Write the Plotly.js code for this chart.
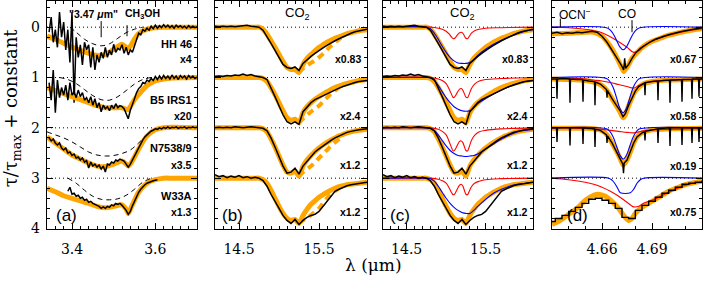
<!DOCTYPE html>
<html><head><meta charset="utf-8">
<script src="https://cdn.plot.ly/plotly-3.0.1.min.js"></script>
<style>html,body{margin:0;padding:0;background:#fff}#chart{width:704px;height:283px}</style>
</head><body><div id="chart"></div>
<script>
// ---------- Panel (a): 3.47 um region ----------
const xA = [3.345,3.35,3.355,3.36,3.365,3.37,3.375,3.38,3.385,3.39,3.395,3.4,3.405,3.41,3.415,3.42,3.425,3.43,3.435,3.44,3.445,3.45,3.455,3.46,3.465,3.47,3.475,3.48,3.485,3.49,3.495,3.5,3.505,3.51,3.515,3.52,3.525,3.53,3.535,3.54,3.545,3.55,3.555,3.56,3.565,3.57,3.575,3.58,3.585,3.59,3.595,3.6,3.605,3.61,3.615,3.62,3.625,3.63,3.635,3.64,3.645,3.65,3.655,3.66,3.665,3.67,3.675,3.68,3.685,3.69,3.695,3.7];
const aHH46 = [0.10,-0.20,0.30,0.05,0.40,-0.30,0.20,-0.10,0.45,0.05,0.70,-0.30,1.50,0.20,0.60,0.35,0.75,0.30,0.45,0.35,0.80,0.40,0.85,0.55,0.70,0.50,0.62,0.40,0.60,0.46,0.55,0.34,0.50,0.42,0.45,0.35,0.52,0.40,0.55,0.45,0.50,0.38,0.28,0.12,0.15,0.05,0.08,0.02,0.06,-0.02,0.03,-0.04,0.02,-0.03,0.01,-0.05,0.00,-0.04,0.01,-0.03,0.02,-0.04,0.00,-0.03,0.01,-0.02,0.02,-0.03,0.01,-0.02,0.01,-0.01];
const aB5 = [1.10,1.45,0.85,1.70,1.05,1.40,1.20,1.35,1.15,1.45,1.10,1.35,1.28,1.40,1.25,1.38,1.30,1.45,1.40,1.50,1.38,1.55,1.42,1.60,1.50,1.68,1.55,1.62,1.58,1.66,1.55,1.62,1.52,1.60,1.56,1.58,1.62,1.72,1.82,1.65,1.55,1.42,1.30,1.22,1.18,1.10,1.12,1.05,1.08,1.02,1.06,0.98,1.04,0.97,1.03,0.96,1.02,0.97,1.03,0.95,1.02,0.97,1.04,0.96,1.01,0.97,1.03,0.96,1.01,0.97,1.02,0.99];
const aN7538 = [2.2,2.26,2.22,2.3,2.34,2.3,2.4,2.44,2.4,2.5,2.48,2.55,2.52,2.6,2.58,2.64,2.6,2.68,2.65,2.8,2.68,2.76,2.72,2.78,2.74,2.82,2.76,2.88,2.72,2.74,2.68,2.7,2.64,2.66,2.62,2.64,2.66,2.72,2.78,2.72,2.64,2.56,2.46,2.38,2.3,2.24,2.18,2.13,2.1,2.06,2.05,2.02,2.03,2.0,2.02,1.99,2.01,1.98,2.01,1.99,2.0,1.98,2.01,1.99,2.0,1.98,2.01,1.99,2.0,1.98,2.0,1.99];
const xW33A = [3.39,3.395,3.4,3.405,3.41,3.415,3.42,3.425,3.43,3.435,3.44,3.445,3.45,3.455,3.46,3.465,3.47,3.475,3.48,3.485,3.49,3.495,3.5,3.505,3.51,3.515,3.52,3.525,3.53,3.535,3.54,3.545,3.55,3.555,3.56,3.565,3.57,3.575,3.58,3.585,3.59,3.595,3.6,3.605];
const aW33A = [3.26,3.18,3.32,3.3,3.36,3.34,3.4,3.38,3.44,3.42,3.48,3.46,3.5,3.52,3.55,3.56,3.6,3.57,3.6,3.56,3.58,3.53,3.55,3.5,3.52,3.5,3.54,3.58,3.64,3.72,3.66,3.55,3.45,3.36,3.28,3.22,3.17,3.13,3.1,3.08,3.06,3.05,3.04,3.03];
const xAmodel = [3.34,3.36,3.38,3.40,3.42,3.44,3.46,3.48,3.50,3.52,3.53,3.535,3.54,3.55,3.56,3.58,3.60,3.62,3.64,3.70];
const aModelHH46 = [0.18,0.24,0.32,0.4,0.46,0.52,0.56,0.54,0.44,0.34,0.4,0.42,0.38,0.24,0.13,0.04,0.01,0.0,0.0,0.0];
const aModelB5 = [1.2,1.26,1.32,1.38,1.44,1.5,1.56,1.6,1.6,1.6,1.63,1.64,1.58,1.44,1.34,1.16,1.07,1.03,1.01,1.0];
const aModelN7538 = [2.18,2.3,2.42,2.54,2.62,2.7,2.76,2.77,2.72,2.66,2.72,2.76,2.72,2.58,2.42,2.16,2.04,2.0,1.99,2.0];
const aModelW33A = [3.2,3.27,3.35,3.4,3.45,3.5,3.56,3.59,3.56,3.53,3.62,3.7,3.62,3.44,3.28,3.1,3.03,3.0,3.0,3.0];
const xDashHH46 = [3.395,3.41,3.43,3.45,3.47,3.49,3.51,3.53,3.55,3.57];
const dashHH46 = [0.0,0.1,0.24,0.33,0.37,0.33,0.22,0.11,0.04,0.0];
const xDashB5 = [3.37,3.39,3.41,3.43,3.45,3.47,3.49,3.51,3.53,3.55,3.57,3.59];
const dashB5 = [1.0,1.04,1.12,1.24,1.36,1.44,1.45,1.38,1.26,1.13,1.04,1.0];
const xDashN7538 = [3.34,3.36,3.38,3.40,3.42,3.44,3.46,3.48,3.50,3.52,3.54,3.56,3.58,3.60];
const dashN7538 = [2.08,2.14,2.2,2.28,2.38,2.48,2.54,2.56,2.55,2.51,2.44,2.3,2.14,2.02];
const xDashW33A = [3.39,3.41,3.43,3.45,3.47,3.49,3.51,3.53,3.55,3.57,3.59];
const dashW33A = [3.0,3.1,3.24,3.36,3.42,3.43,3.41,3.34,3.22,3.08,3.0];

// ---------- Panels (b),(c): CO2 bending mode ----------
const xCO2 = [14.2,14.25,14.3,14.35,14.4,14.45,14.5,14.55,14.6,14.65,14.7,14.75,14.8,14.85,14.9,14.95,15.0,15.05,15.1,15.15,15.2,15.25,15.3,15.35,15.4,15.45,15.5,15.55,15.6,15.65,15.7,15.75,15.8,15.85,15.9,15.95,16.0,16.05,16.1];
const co2HH46 = [-0.02,-0.01,-0.02,-0.01,-0.02,-0.01,-0.02,-0.03,-0.04,-0.02,-0.01,0.0,0.06,0.18,0.32,0.46,0.6,0.74,0.8,0.82,0.79,0.86,0.72,0.64,0.58,0.52,0.46,0.41,0.36,0.31,0.27,0.23,0.19,0.15,0.12,0.09,0.07,0.05,0.04];
const co2B5 = [0.98,0.97,0.98,0.96,0.97,0.95,0.96,0.93,0.96,0.94,0.97,0.98,1.0,1.04,1.2,1.38,1.56,1.74,1.88,1.92,1.88,1.93,1.68,1.58,1.5,1.44,1.4,1.36,1.32,1.28,1.24,1.21,1.18,1.15,1.12,1.1,1.08,1.07,1.06];
const co2N7538 = [2.0,1.99,2.0,1.99,2.0,1.98,1.99,2.0,1.99,1.98,1.99,2.0,2.01,2.06,2.2,2.38,2.58,2.76,2.9,2.88,2.8,2.92,2.76,2.66,2.56,2.48,2.42,2.36,2.3,2.25,2.2,2.16,2.12,2.09,2.07,2.05,2.04,2.03,2.02];
const co2W33A = [2.93,2.97,2.95,2.99,2.96,2.98,2.95,2.99,2.97,3.0,2.98,3.0,3.05,3.16,3.32,3.46,3.62,3.74,3.84,3.9,3.82,3.92,3.84,3.78,3.74,3.72,3.66,3.56,3.44,3.34,3.26,3.22,3.18,3.15,3.13,3.12,3.1,3.1,3.08];
const co2ModelHH46 = [0,0,0,0,0,0,0,0,0,0,0,0,0.04,0.14,0.27,0.4,0.54,0.68,0.8,0.84,0.84,0.9,0.74,0.62,0.54,0.47,0.4,0.35,0.3,0.26,0.22,0.19,0.16,0.13,0.11,0.09,0.07,0.06,0.05];
const co2ModelB5 = [1,1,1,1,1,1,1,1,1,1,1,1,1.02,1.08,1.2,1.34,1.5,1.66,1.8,1.85,1.83,1.9,1.7,1.58,1.5,1.43,1.38,1.33,1.28,1.24,1.2,1.17,1.14,1.12,1.1,1.08,1.06,1.05,1.04];
const co2ModelN7538 = [2,2,2,2,2,2,2,2,2,2,2,2,2.02,2.08,2.22,2.38,2.56,2.74,2.88,2.9,2.86,2.96,2.76,2.64,2.55,2.47,2.4,2.34,2.29,2.24,2.2,2.16,2.13,2.1,2.08,2.06,2.05,2.04,2.03];
const co2ModelW33A = [3,3,3,3,3,3,3,3,3,3,3,3,3.03,3.1,3.24,3.4,3.56,3.7,3.8,3.84,3.82,3.9,3.74,3.62,3.52,3.45,3.38,3.33,3.28,3.24,3.2,3.17,3.15,3.13,3.12,3.11,3.1,3.09,3.08];
const xCO2alt = [15.25,15.3,15.35,15.4,15.45,15.5,15.55,15.6,15.65,15.7,15.75,15.8];
const co2AltHH46 = [0.9,0.82,0.76,0.71,0.66,0.6,0.53,0.45,0.37,0.3,0.24,0.19];
const co2AltB5 = [1.9,1.82,1.75,1.68,1.62,1.56,1.48,1.4,1.32,1.26,1.2,1.16];
const co2AltN7538 = [2.96,2.88,2.82,2.76,2.68,2.6,2.52,2.44,2.36,2.29,2.22,2.15];
const co2AltW33A = [3.9,3.84,3.79,3.73,3.67,3.6,3.5,3.4,3.32,3.26,3.2,3.16];
const xCO2pure = [14.2,14.8,14.9,14.95,15.0,15.04,15.07,15.09,15.11,15.14,15.17,15.19,15.21,15.23,15.25,15.27,15.29,15.32,15.36,15.42,15.5,15.7,16.1];
const co2PureHH46 = [0,0,0.02,0.04,0.08,0.14,0.2,0.23,0.22,0.16,0.11,0.1,0.12,0.17,0.22,0.23,0.19,0.12,0.07,0.04,0.02,0.01,0.0];
const co2PureB5 = [1,1,1.03,1.06,1.12,1.24,1.34,1.4,1.38,1.3,1.23,1.22,1.25,1.32,1.39,1.4,1.34,1.22,1.13,1.07,1.04,1.02,1.0];
const co2PureN7538 = [2,2,2.03,2.07,2.14,2.28,2.4,2.46,2.44,2.35,2.27,2.26,2.29,2.37,2.45,2.46,2.39,2.25,2.15,2.08,2.05,2.02,2.0];
const co2PureW33A = [3,3,3.02,3.05,3.1,3.2,3.29,3.33,3.31,3.22,3.14,3.12,3.15,3.24,3.32,3.33,3.27,3.17,3.1,3.06,3.03,3.01,3.0];
const xCO2polar = [14.2,14.75,14.8,14.85,14.9,14.95,15.0,15.05,15.1,15.15,15.2,15.25,15.3,15.35,15.4,15.5,15.6,15.7,15.8,15.9,16.0,16.1];
const co2PolarHH46 = [0,0,0.03,0.12,0.24,0.38,0.5,0.6,0.67,0.71,0.72,0.72,0.7,0.64,0.56,0.44,0.34,0.26,0.19,0.13,0.08,0.05];
const co2PolarB5 = [1,1,1.01,1.06,1.16,1.28,1.4,1.5,1.58,1.63,1.66,1.67,1.66,1.6,1.52,1.42,1.33,1.25,1.18,1.12,1.08,1.06];
const co2PolarN7538 = [2,2,2.01,2.05,2.14,2.25,2.36,2.45,2.51,2.55,2.56,2.57,2.56,2.55,2.52,2.42,2.32,2.22,2.14,2.08,2.05,2.03];
const co2PolarW33A = [3,3,3.01,3.06,3.16,3.28,3.4,3.5,3.58,3.64,3.68,3.7,3.7,3.64,3.56,3.42,3.3,3.22,3.16,3.12,3.1,3.08];

// ---------- Panel (d): CO / OCN- region ----------
const xCoHH46 = [4.630,4.633,4.636,4.639,4.642,4.645,4.648,4.651,4.654,4.657,4.660,4.663,4.666,4.668,4.670,4.672,4.673,4.6736,4.6742,4.675,4.676,4.678,4.680,4.683,4.686,4.689,4.692,4.695,4.698,4.701,4.704,4.707,4.710,4.713,4.716,4.720];
const coHH46 = [0.12,0.1,0.13,0.11,0.12,0.1,0.11,0.09,0.08,0.1,0.18,0.3,0.45,0.56,0.67,0.78,0.85,0.62,0.82,0.78,0.74,0.62,0.52,0.42,0.35,0.29,0.24,0.2,0.17,0.14,0.11,0.09,0.07,0.05,0.03,0.01];
const xCoB5 = [4.6300,4.6327,4.6330,4.6333,4.6370,4.6405,4.6408,4.6411,4.6450,4.6483,4.6486,4.6489,4.6520,4.6555,4.6558,4.6561,4.6590,4.6610,4.6627,4.6630,4.6633,4.6660,4.6690,4.6710,4.6726,4.6740,4.6760,4.6780,4.6800,4.6820,4.6840,4.6855,4.6858,4.6861,4.6900,4.6933,4.6936,4.6939,4.6970,4.7005,4.7008,4.7011,4.7040,4.7077,4.7080,4.7083,4.7110,4.7137,4.7140,4.7143,4.7160,4.7179,4.7182,4.7185,4.7200];
const coB5 = [1.03,1.03,1.42,1.03,1.02,1.03,1.50,1.03,1.04,1.04,1.48,1.05,1.07,1.08,1.55,1.09,1.13,1.2,1.24,1.40,1.26,1.42,1.57,1.67,1.78,1.72,1.55,1.4,1.27,1.18,1.13,1.11,1.35,1.1,1.08,1.07,1.45,1.07,1.06,1.05,1.5,1.05,1.05,1.04,1.48,1.04,1.04,1.04,1.42,1.03,1.03,1.03,1.38,1.03,1.03];
const xCoN7538 = [4.6300,4.6327,4.6330,4.6333,4.6370,4.6405,4.6408,4.6411,4.6450,4.6483,4.6486,4.6489,4.6520,4.6555,4.6558,4.6561,4.6590,4.6610,4.6627,4.6630,4.6633,4.6660,4.6690,4.6710,4.6725,4.6729,4.6733,4.6750,4.6770,4.6790,4.6810,4.6840,4.6855,4.6858,4.6861,4.6900,4.6933,4.6936,4.6939,4.6970,4.7005,4.7008,4.7011,4.7040,4.7077,4.7080,4.7083,4.7110,4.7137,4.7140,4.7143,4.7160,4.7179,4.7182,4.7185,4.7200];
const coN7538 = [2.0,2.0,2.28,2.0,2.0,2.0,2.35,2.0,2.0,2.0,2.32,2.0,2.01,2.02,2.38,2.03,2.05,2.1,2.14,2.3,2.16,2.3,2.48,2.62,2.72,2.9,2.7,2.64,2.48,2.3,2.18,2.1,2.08,2.25,2.07,2.04,2.02,2.3,2.02,2.01,2.0,2.36,2.0,2.0,2.0,2.34,2.0,2.0,2.0,2.3,2.0,2.0,2.0,2.28,2.0,2.0];
const xCoW33A = [4.630,4.634,4.638,4.642,4.646,4.650,4.654,4.658,4.662,4.666,4.670,4.674,4.678,4.682,4.686,4.690,4.694,4.698,4.702,4.706,4.710,4.714,4.718,4.722];
const coW33A = [3.86,3.8,3.74,3.66,3.58,3.5,3.42,3.4,3.44,3.5,3.6,3.78,3.8,3.64,3.54,3.46,3.38,3.3,3.24,3.18,3.12,3.1,3.08,3.06];
const xCoModelHH46 = [4.63,4.64,4.65,4.655,4.66,4.665,4.668,4.67,4.672,4.673,4.674,4.676,4.678,4.68,4.685,4.69,4.695,4.70,4.705,4.71,4.715,4.72];
const coModelHH46 = [0.13,0.12,0.1,0.1,0.18,0.38,0.55,0.68,0.82,0.88,0.84,0.74,0.62,0.54,0.38,0.28,0.22,0.16,0.12,0.08,0.05,0.03];
const xCoModelB5 = [4.63,4.64,4.65,4.655,4.66,4.663,4.666,4.669,4.671,4.6727,4.674,4.676,4.678,4.68,4.684,4.69,4.70,4.71,4.72];
const coModelB5 = [1.03,1.04,1.06,1.09,1.16,1.26,1.42,1.58,1.7,1.8,1.74,1.56,1.4,1.27,1.14,1.08,1.05,1.04,1.03];
const xCoModelN7538 = [4.63,4.65,4.655,4.66,4.663,4.666,4.669,4.671,4.6727,4.675,4.677,4.679,4.681,4.684,4.69,4.70,4.72];
const coModelN7538 = [2.01,2.01,2.02,2.06,2.14,2.3,2.48,2.62,2.74,2.64,2.48,2.3,2.18,2.1,2.04,2.02,2.01];
const xCoModelW33A = [4.63,4.635,4.64,4.645,4.65,4.655,4.658,4.662,4.666,4.67,4.673,4.676,4.678,4.68,4.684,4.69,4.695,4.70,4.705,4.71,4.715,4.72];
const coModelW33A = [3.92,3.84,3.72,3.6,3.44,3.34,3.32,3.36,3.46,3.6,3.74,3.84,3.8,3.7,3.58,3.46,3.36,3.26,3.19,3.13,3.09,3.06];
const xCoRed = [4.63,4.64,4.65,4.655,4.66,4.665,4.67,4.675,4.679,4.682,4.685,4.69,4.70,4.71,4.72];
const coRedHH46 = [0.0,0.01,0.04,0.07,0.11,0.19,0.29,0.4,0.5,0.47,0.38,0.28,0.16,0.08,0.03];
const coRedB5 = [1.0,1.01,1.03,1.05,1.07,1.1,1.14,1.18,1.21,1.16,1.12,1.08,1.05,1.04,1.03];
const coRedN7538 = [2.0,2.0,2.01,2.02,2.03,2.05,2.07,2.09,2.1,2.08,2.06,2.04,2.03,2.02,2.02];
const coRedW33A = [3.0,3.03,3.08,3.12,3.18,3.26,3.36,3.48,3.57,3.56,3.5,3.44,3.28,3.14,3.07];
const xCoBlue = [4.63,4.6627,4.6647,4.6667,4.6687,4.6707,4.6727,4.6747,4.6767,4.6787,4.6807,4.6827,4.72];
const coBlueHH46 = [0,0.01,0.05,0.13,0.26,0.39,0.45,0.39,0.26,0.13,0.05,0.01,0];
const coBlueB5 = [1,1.02,1.08,1.2,1.4,1.61,1.7,1.61,1.4,1.2,1.08,1.02,1];
const coBlueN7538 = [2,2.02,2.07,2.18,2.36,2.54,2.62,2.54,2.36,2.18,2.07,2.02,2];
const xCoBlueW33A = [4.63,4.664,4.666,4.668,4.670,4.671,4.677,4.679,4.681,4.683,4.685,4.72];
const coBlueW33A = [3,3,3.04,3.12,3.24,3.29,3.29,3.22,3.1,3.03,3.0,3.0];

// ---------- labels ----------
const sources = ['HH 46','B5 IRS1','N7538/9','W33A'];
const offsets = [0,1,2,3];
const scaleA = ['x4','x20','x3.5','x1.3'];
const scaleB = ['x0.83','x2.4','x1.2','x1.2'];
const scaleC = ['x0.83','x2.4','x1.2','x1.2'];
const scaleD = ['x0.67','x0.58','x0.19','x0.75'];
const panelTags = ['(a)','(b)','(c)','(d)'];

// ---------- build ----------
const ORANGE = '#ffa500', BLACK = '#000000', RED = '#ff0000', BLUE = '#0000ff';
const traces = [];
function add(x, y, ax, color, width, extra) {
  const t = {x: x, y: y, xaxis: 'x' + (ax === 1 ? '' : ax), yaxis: 'y' + (ax === 1 ? '' : ax),
    type: 'scatter', mode: 'lines', hoverinfo: 'skip', line: {color: color, width: width}};
  if (extra) { Object.assign(t.line, extra); }
  traces.push(t);
}
const SPL = {shape: 'spline', smoothing: 0.7};
const aModels = [aModelHH46, aModelB5, aModelN7538, aModelW33A];
const aDashX = [xDashHH46, xDashB5, xDashN7538, xDashW33A];
const aDash = [dashHH46, dashB5, dashN7538, dashW33A];
const aObsX = [xA, xA, xA, xW33A];
const aObs = [aHH46, aB5, aN7538, aW33A];
for (let r = 0; r < 4; r++) {
  add(xAmodel, aModels[r], 1, ORANGE, 5, SPL);
  add(aDashX[r], aDash[r], 1, BLACK, 1, {dash: '5px,4px', shape: 'spline'});
  add(aObsX[r], aObs[r], 1, BLACK, 1.5);
}
const co2Obs = [co2HH46, co2B5, co2N7538, co2W33A];
const co2Model = [co2ModelHH46, co2ModelB5, co2ModelN7538, co2ModelW33A];
const co2Alt = [co2AltHH46, co2AltB5, co2AltN7538, co2AltW33A];
const co2Pure = [co2PureHH46, co2PureB5, co2PureN7538, co2PureW33A];
const co2Polar = [co2PolarHH46, co2PolarB5, co2PolarN7538, co2PolarW33A];
for (let r = 0; r < 4; r++) {
  add(xCO2, co2Model[r], 2, ORANGE, 5, SPL);
  add(xCO2alt, co2Alt[r], 2, ORANGE, 4, {dash: '7px,5px', shape: 'spline'});
  add(xCO2, co2Obs[r], 2, BLACK, 1.5);
  add(xCO2, co2Model[r], 3, ORANGE, 5, SPL);
  add(xCO2pure, co2Pure[r], 3, RED, 1.1, {shape: 'spline'});
  add(xCO2polar, co2Polar[r], 3, BLUE, 1.1, {shape: 'spline'});
  add(xCO2, co2Obs[r], 3, BLACK, 1.5);
}
const coModelX = [xCoModelHH46, xCoModelB5, xCoModelN7538, xCoModelW33A];
const coModel = [coModelHH46, coModelB5, coModelN7538, coModelW33A];
const coRed = [coRedHH46, coRedB5, coRedN7538, coRedW33A];
const coBlueX = [xCoBlue, xCoBlue, xCoBlue, xCoBlueW33A];
const coBlue = [coBlueHH46, coBlueB5, coBlueN7538, coBlueW33A];
const coObsX = [xCoHH46, xCoB5, xCoN7538, xCoW33A];
const coObs = [coHH46, coB5, coN7538, coW33A];
for (let r = 0; r < 4; r++) {
  add(coModelX[r], coModel[r], 4, ORANGE, 5, SPL);
  add(xCoRed, coRed[r], 4, RED, 1.1, {shape: 'spline'});
  add(coBlueX[r], coBlue[r], 4, BLUE, 1.1, {shape: 'spline'});
  add(coObsX[r], coObs[r], 4, BLACK, 1.4, r === 3 ? {shape: 'hvh'} : null);
}

const shapes = [];
for (let p = 1; p <= 4; p++) {
  const xs = p === 1 ? 'x' : 'x' + p, ys = p === 1 ? 'y' : 'y' + p;
  offsets.forEach(o => shapes.push({type: 'line', xref: xs + ' domain', yref: ys, x0: 0, x1: 1, y0: o, y1: o,
    line: {color: BLACK, width: 1, dash: '1px,3px'}, layer: 'below'}));
}
const featA = [{x: 3.47, y0: -0.12, y1: 0.2}, {x: 3.532, y0: -0.04, y1: 0.18}];
const featD = [{x: 4.635, y0: -0.17, y1: 0.0}, {x: 4.678, y0: -0.14, y1: 0.1}];
featA.forEach(f => shapes.push({type: 'line', xref: 'x', yref: 'y', x0: f.x, x1: f.x, y0: f.y0, y1: f.y1, line: {color: BLACK, width: 1}}));
featD.forEach(f => shapes.push({type: 'line', xref: 'x4', yref: 'y4', x0: f.x, x1: f.x, y0: f.y0, y1: f.y1, line: {color: BLACK, width: 1}}));

const ann = [];
const LAB = 'Liberation Sans, Arial, sans-serif';
function note(xref, yref, x, y, text, size, xanchor, fam) {
  ann.push({xref: xref, yref: yref, x: x, y: y, text: text, showarrow: false, xanchor: xanchor || 'center', yanchor: 'middle',
    font: {family: fam || LAB, size: size, color: BLACK}});
}
const nameY = [0.33, 1.44, 2.4, 3.36];
const scaleY = [0.64, 1.76, 2.74, 3.68];
for (let r = 0; r < 4; r++) {
  note('x domain', 'y', 0.98, nameY[r], '<b>' + sources[r] + '</b>', 11, 'right');
  note('x domain', 'y', 0.98, scaleY[r], '<b>' + scaleA[r] + '</b>', 10.5, 'right');
  note('x2 domain', 'y2', 0.975, scaleY[r], '<b>' + scaleB[r] + '</b>', 10.5, 'right');
  note('x3 domain', 'y3', 0.98, scaleY[r], '<b>' + scaleC[r] + '</b>', 10.5, 'right');
  note('x4 domain', 'y4', 0.975, scaleY[r] + (r === 2 ? 0.02 : 0), '<b>' + scaleD[r] + '</b>', 10.5, 'right');
}
const tagX = [0.127, 0.118, 0.113, 0.167];
panelTags.forEach((t, i) => note('x' + (i ? i + 1 : '') + ' domain', 'y' + (i ? i + 1 : ''), tagX[i], 3.74, t, 17, 'center'));
note('x', 'y', 3.452, -0.27, '<b>"3.47 <i>μ</i>m"</b>', 10.5);
note('x', 'y', 3.569, -0.27, '<b>CH<sub>3</sub>OH</b>', 10.5);
note('x2 domain', 'y2', 0.54, -0.28, 'CO<sub>2</sub>', 13);
note('x3 domain', 'y3', 0.527, -0.28, 'CO<sub>2</sub>', 13);
note('x4', 'y4', 4.644, -0.27, 'OCN<sup>−</sup>', 12);
note('x4', 'y4', 4.675, -0.27, 'CO', 12);
ann.push({xref: 'paper', yref: 'paper', x: 0.017, y: 0.53, text: 'τ/τ<sub>max</sub> + constant', textangle: -90,
  showarrow: false, xanchor: 'center', yanchor: 'middle', font: {family: 'DejaVu Serif', size: 18, color: BLACK}});
ann.push({xref: 'paper', yref: 'paper', x: 0.53, y: -0.158, text: 'λ (μm)', showarrow: false,
  xanchor: 'center', yanchor: 'middle', font: {family: 'DejaVu Serif', size: 17, color: BLACK}});

const TF = {family: 'DejaVu Serif', size: 14, color: BLACK};
function xax(domain, range, tv, mdt, m0, anchor) {
  return {domain: domain, range: range, anchor: anchor, tickvals: tv, ticks: 'inside', ticklen: 6,
    tickwidth: 1, tickcolor: BLACK, showline: true, linecolor: BLACK, linewidth: 1.3, mirror: 'allticks',
    showgrid: false, zeroline: false, tickfont: TF, ticklabelstandoff: 7,
    minor: {dtick: mdt, tick0: m0, ticks: 'inside', ticklen: 3, tickcolor: BLACK, showgrid: false}};
}
function yax(anchor, showLab) {
  return {domain: [0, 1], range: [4.01, -0.52], anchor: anchor, tickvals: [0, 1, 2, 3, 4], ticks: 'inside', ticklen: 6,
    tickwidth: 1, tickcolor: BLACK, showline: true, linecolor: BLACK, linewidth: 1.3, mirror: 'allticks',
    showgrid: false, zeroline: false, showticklabels: showLab, tickfont: TF, ticklabelstandoff: 3,
    minor: {dtick: 0.2, tick0: 0, ticks: 'inside', ticklen: 3, tickcolor: BLACK, showgrid: false}};
}
const layout = {
  width: 704, height: 283, margin: {l: 0, r: 0, t: 1, b: 54}, showlegend: false,
  paper_bgcolor: '#fff', plot_bgcolor: '#fff',
  xaxis: xax([47/704, 197/704], [3.34, 3.70], [3.4, 3.6], 0.02, 3.4, 'y'),
  xaxis2: xax([215/704, 367/704], [14.2, 16.1], [14.5, 15.5], 0.1, 14.5, 'y2'),
  xaxis3: xax([383/704, 533/704], [14.2, 16.1], [14.5, 15.5], 0.1, 14.5, 'y3'),
  xaxis4: xax([552/704, 702/704], [4.63, 4.72], [4.66, 4.69], 0.01, 4.66, 'y4'),
  yaxis: yax('x', true), yaxis2: yax('x2', false), yaxis3: yax('x3', false), yaxis4: yax('x4', false),
  shapes: shapes, annotations: ann
};
Plotly.newPlot('chart', traces, layout, {staticPlot: true, displayModeBar: false});
</script></body></html>
